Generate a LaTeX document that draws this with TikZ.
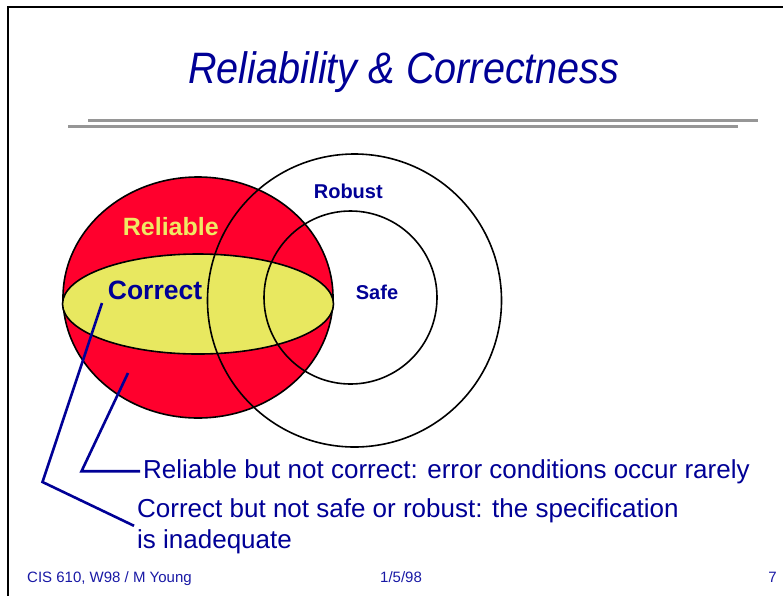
\documentclass[tikz,border=0pt]{standalone}
\usepackage{fontspec}
\usepackage{graphicx}
\setmainfont{Liberation Sans}
\usetikzlibrary{shapes.geometric}
\definecolor{slidenavy}{RGB}{0,0,150}
\definecolor{footblue}{RGB}{25,25,165}
\definecolor{relred}{RGB}{255,0,45}
\definecolor{coryellow}{RGB}{232,232,96}
\definecolor{labyellow}{RGB}{240,232,100}
\definecolor{rulegray}{RGB}{150,150,150}
\begin{document}
\begin{tikzpicture}[
  x=1pt, y=-1pt,
  setnode/.style={ellipse, draw, line width=1.6pt, inner sep=0pt},
  setlabel/.style={font=\bfseries\fontsize{20}{24}\selectfont, text=slidenavy, inner sep=0pt},
  note/.style={font=\fontsize{26}{31}\selectfont, text=slidenavy, inner sep=3pt, align=left},
  foot/.style={font=\fontsize{15}{18}\selectfont, text=footblue, inner sep=0pt},
  pointer/.style={draw=slidenavy, line width=2.6pt},
  rulebar/.style={draw=rulegray, line width=3pt}
]
  \useasboundingbox (0,0) rectangle (783,595);
  % slide frame and title
  \draw[line width=2.5pt] (8,600) -- (8,7) -- (790,7);
  \node[anchor=base, text=slidenavy, font=\itshape\fontsize{44}{52}\selectfont] (title) at (404,83)
    {\scalebox{0.9}[1]{Reliability \& Correctness}};
  \coordinate (ruleA) at (88,120);
  \coordinate (ruleB) at (68,126);
  \draw[rulebar] (ruleA) -- ++(670,0);
  \draw[rulebar] (ruleB) -- ++(670,0);
  % the sets
  \node[setnode, fill=relred, minimum width=270pt, minimum height=241pt] (reliable) at (198,297.5) {};
  \node[setnode, fill=coryellow, minimum width=271pt, minimum height=100pt] (correct) at (198,304) {};
  \node[setnode, minimum width=294pt, minimum height=293pt] (robust) at (354.5,300.5) {};
  \node[setnode, minimum width=173pt, minimum height=173pt] (safe) at (350.5,297.5) {};
  % set labels
  \node[setlabel] (robustlab) at (348.3,191.7) {Robust};
  \node[setlabel] (safelab) at (377,292) {Safe};
  \node[setlabel, text=labyellow, font=\bfseries\fontsize{25}{30}\selectfont] (reliablelab) at (170.8,226.7) {Reliable};
  \node[setlabel, font=\bfseries\fontsize{26.5}{31}\selectfont] (correctlab) at (155,290) {Correct};
  % notes and pointers
  \node[note, anchor=base west] (relnote) at (140,478) {Reliable but not correct: error conditions occur rarely};
  \node[note, anchor=base west] (cornote) at (134,548) {Correct but not safe or robust: the specification\\is inadequate};
  \coordinate (reltip) at (128,373);
  \coordinate (relbend) at (81.5,472);
  \coordinate (cortip) at (102,303);
  \coordinate (corbend) at (42.5,482);
  \draw[pointer] (reltip) -- (relbend |- relnote.west) -- (relnote.west);
  \draw[pointer] (cortip) -- (corbend) -- (cornote.west);
  % footer
  \node[foot, anchor=base west] (author) at (27,582) {CIS 610, W98 / M Young};
  \node[foot, anchor=base west] (date) at (380,582) {1/5/98};
  \node[foot, anchor=base east] (page) at (777,582) {7};
\end{tikzpicture}
\end{document}
